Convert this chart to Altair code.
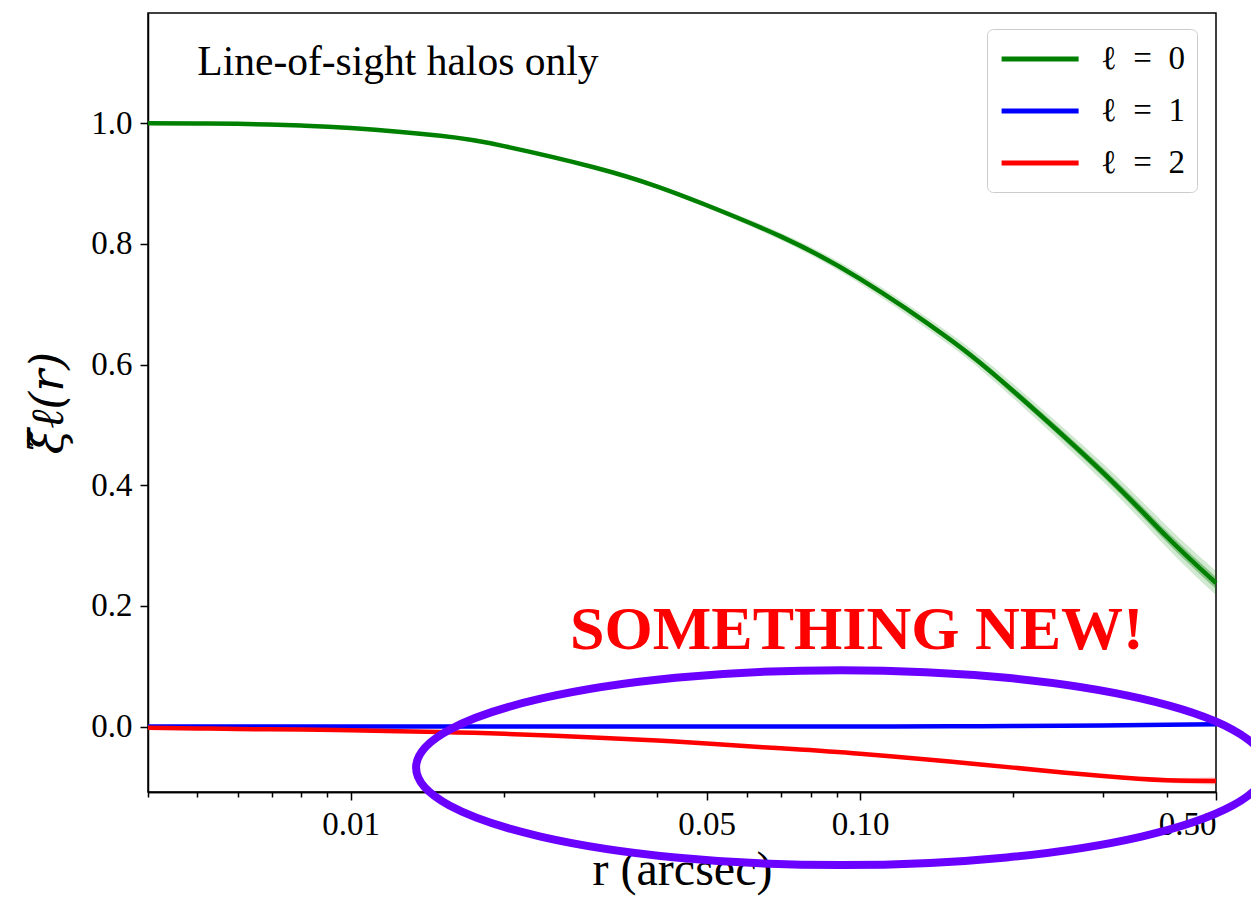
import altair as alt
import pandas as pd

# ---------------- data ----------------
r = [0.004, 0.005, 0.006, 0.008, 0.01, 0.015, 0.02, 0.03, 0.04, 0.05,
     0.07, 0.1, 0.15, 0.2, 0.3, 0.4, 0.5]
xi0 = [1.000, 0.9995, 0.999, 0.996, 0.992, 0.979, 0.962, 0.927, 0.895, 0.864,
       0.812, 0.742, 0.642, 0.556, 0.421, 0.315, 0.238]
xi1 = [0.000, 0.000, 0.000, 0.000, 0.000, 0.000, 0.000, 0.000, 0.000, 0.000,
       0.000, 0.000, 0.0005, 0.001, 0.002, 0.003, 0.004]
xi2 = [-0.002, -0.003, -0.004, -0.005, -0.006, -0.009, -0.012, -0.018, -0.023, -0.028,
       -0.036, -0.045, -0.058, -0.068, -0.082, -0.089, -0.090]
# half widths of the uncertainty bands
hw0_outer = [0.0, 0.0, 0.0, 0.0, 0.0, 0.0005, 0.001, 0.002, 0.003, 0.004,
             0.006, 0.008, 0.010, 0.012, 0.015, 0.018, 0.020]
hw0_inner = [0.0, 0.0, 0.0, 0.0, 0.0, 0.0003, 0.0005, 0.001, 0.0015, 0.002,
             0.003, 0.004, 0.005, 0.006, 0.0075, 0.009, 0.010]
hw2 = [0.0, 0.0, 0.0, 0.0, 0.0, 0.0, 0.0, 0.0, 0.0, 0.0003,
       0.0005, 0.0008, 0.001, 0.0015, 0.0025, 0.004, 0.006]

series_names = ["ℓ\u2002=\u20020", "ℓ\u2002=\u20021", "ℓ\u2002=\u20022"]
series_colors = ["#008000", "#0000ff", "#ff0000"]

major_ticks = [0.01, 0.05, 0.1, 0.5]
minor_ticks = [0.004, 0.005, 0.006, 0.007, 0.008, 0.009, 0.02, 0.03, 0.04,
               0.06, 0.07, 0.08, 0.09, 0.2, 0.3, 0.4]
y_ticks = [0.0, 0.2, 0.4, 0.6, 0.8, 1.0]

x_domain = [0.004, 0.5]
y_domain = [-0.1084, 1.1826]

label_text = ["Line-of-sight halos only"]
label_pos = [(0.005, 1.08)]
note_text = ["SOMETHING NEW!"]
note_pos = [(0.0986, 0.128)]
ellipse_center = [(0.0918, -0.068)]

# ---------------- tables ----------------
rows = []
for name, vals in zip(series_names, [xi0, xi1, xi2]):
    for ri, v in zip(r, vals):
        rows.append({"r": ri, "xi": v, "series": name})
lines_df = pd.DataFrame(rows)

band_df = pd.DataFrame({
    "r": r,
    "g_lo_out": [v - h for v, h in zip(xi0, hw0_outer)],
    "g_hi_out": [v + h for v, h in zip(xi0, hw0_outer)],
    "g_lo_in": [v - h for v, h in zip(xi0, hw0_inner)],
    "g_hi_in": [v + h for v, h in zip(xi0, hw0_inner)],
    "r_lo": [v - h for v, h in zip(xi2, hw2)],
    "r_hi": [v + h for v, h in zip(xi2, hw2)],
})

label_df = pd.DataFrame({"x": [p[0] for p in label_pos], "y": [p[1] for p in label_pos], "t": label_text})
note_df = pd.DataFrame({"x": [p[0] for p in note_pos], "y": [p[1] for p in note_pos], "t": note_text})
ell_df = pd.DataFrame({"x": [p[0] for p in ellipse_center], "y": [p[1] for p in ellipse_center]})

FONT = "Liberation Serif"

xscale = alt.Scale(type="log", domain=x_domain, nice=False)
yscale = alt.Scale(domain=y_domain, nice=False, zero=False)

y_axis = alt.Axis(values=y_ticks, format=".1f", tickSize=8, labelPadding=8,
                  title="ξ̃ℓ(r)", titleFont="DejaVu Serif", titleFontSize=46,
                  titleFontStyle="italic", titlePadding=18, grid=False)


def xdef(field, axis=None):
    if axis is None:
        return alt.X(f"{field}:Q", scale=xscale, axis=None)
    return alt.X(f"{field}:Q", scale=xscale, axis=axis)


def ydef(field):
    return alt.Y(f"{field}:Q", scale=yscale, axis=y_axis)


x_major_axis = alt.Axis(values=major_ticks, format=".2f", orient="bottom", tickSize=8,
                        labelPadding=8, labelOverlap=False, title="r (arcsec)",
                        titleFontSize=48, titlePadding=5, grid=False)
x_minor_axis = alt.Axis(values=minor_ticks, labels=False, orient="bottom", tickSize=5,
                        title="", grid=False)

band_out = alt.Chart(band_df).mark_area(color="#008000", opacity=0.18, interpolate="natural").encode(
    x=xdef("r", x_minor_axis), y=ydef("g_lo_out"), y2="g_hi_out")
band_in = alt.Chart(band_df).mark_area(color="#008000", opacity=0.35, interpolate="natural").encode(
    x=xdef("r"), y=ydef("g_lo_in"), y2="g_hi_in")
band_red = alt.Chart(band_df).mark_area(color="#ff0000", opacity=0.2, interpolate="natural").encode(
    x=xdef("r"), y=ydef("r_lo"), y2="r_hi")

lines = alt.Chart(lines_df).mark_line(strokeWidth=4.5, interpolate="natural").encode(
    x=xdef("r", x_major_axis),
    y=ydef("xi"),
    color=alt.Color("series:N", scale=alt.Scale(domain=series_names, range=series_colors),
                    legend=alt.Legend(title=None, orient="none", legendX=839, legendY=16)),
    detail="series:N",
)

label = alt.Chart(label_df).mark_text(font=FONT, fontSize=41.5, align="left",
                                      baseline="alphabetic", color="black").encode(
    x=xdef("x"), y=ydef("y"), text="t:N")
note = alt.Chart(note_df).mark_text(font=FONT, fontSize=62, fontWeight="bold", align="center",
                                    baseline="alphabetic", color="#ff0000").encode(
    x=xdef("x"), y=ydef("y"), text="t:N")

ellipse_path = "M -1 0 A 1 0.2294 0 1 1 1 0 A 1 0.2294 0 1 1 -1 0 Z"
ellipse = alt.Chart(ell_df).mark_point(shape=ellipse_path, size=722500, filled=False,
                                       stroke="#6a00ff", strokeWidth=8, opacity=1).encode(
    x=xdef("x"), y=ydef("y"))

chart = alt.layer(band_out, band_in, band_red, lines, label, note, ellipse).resolve_axis(
    x="independent"
).properties(
    width=1068, height=779,
    autosize=alt.AutoSizeParams(type="none"),
    padding={"left": 140, "top": 5, "right": 35, "bottom": 104},
    background="white",
).configure_axis(
    labelFont=FONT, labelFontSize=33, labelColor="black",
    titleFont=FONT, titleColor="black", titleFontWeight="normal",
    tickColor="black", domainColor="black", tickWidth=1.5, domainWidth=1.5,
).configure_view(
    stroke="black", strokeWidth=1.5,
).configure_legend(
    labelFont=FONT, labelFontSize=33, labelColor="black",
    symbolType="M -1 0 L 4 0", symbolSize=949, symbolStrokeWidth=5,
    labelOffset=66, padding=12, rowPadding=17,
    strokeColor="#cccccc", cornerRadius=6, fillColor="white",
)

chart.save("out.html", embed_options={"renderer": "svg", "actions": False})
